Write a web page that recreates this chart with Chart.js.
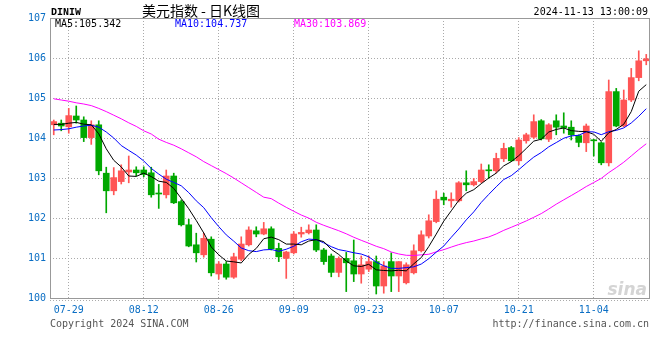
<!DOCTYPE html>
<html><head><meta charset="utf-8">
<script src="https://cdn.jsdelivr.net/npm/chart.js@4"></script>
<style>
html,body{margin:0;padding:0;background:#fff;}
canvas{display:block;}
</style></head><body>
<canvas id="c" width="660" height="360"></canvas>
<script>
// ---- data ----
const dates = ["07-25","07-26","07-29","07-30","07-31","08-01","08-02","08-05","08-06","08-07",
"08-08","08-09","08-12","08-13","08-14","08-15","08-16","08-19","08-20","08-21",
"08-22","08-23","08-26","08-27","08-28","08-29","08-30","09-02","09-03","09-04",
"09-05","09-06","09-09","09-10","09-11","09-12","09-13","09-16","09-17","09-18",
"09-19","09-20","09-23","09-24","09-25","09-26","09-27","09-30","10-01","10-02",
"10-03","10-04","10-07","10-08","10-09","10-10","10-11","10-14","10-15","10-16",
"10-17","10-18","10-21","10-22","10-23","10-24","10-25","10-28","10-29","10-30",
"10-31","11-01","11-04","11-05","11-06","11-07","11-08","11-11","11-12","11-13"];
const tickLabels = ["07-29","08-12","08-26","09-09","09-23","10-07","10-21","11-04"];

const opens = [104.33,104.37,104.28,104.55,104.45,104.01,104.33,103.12,102.68,102.91,
103.15,103.20,103.20,103.13,102.62,102.58,103.05,102.41,101.83,101.33,
101.08,101.47,100.60,100.85,100.52,100.97,101.33,101.68,101.60,101.73,
101.24,100.99,101.13,101.60,101.63,101.70,101.20,101.05,100.64,100.99,
100.93,100.60,100.72,100.91,100.30,100.91,100.55,100.38,100.63,101.18,
101.55,101.91,102.52,102.43,102.43,102.88,102.83,102.91,103.20,103.18,
103.48,103.76,103.43,103.93,104.02,104.43,103.97,104.43,104.30,104.27,
104.06,103.88,103.95,103.88,103.38,105.16,104.30,104.95,105.51,105.93];
const highs = [104.45,104.45,104.74,104.80,104.53,104.43,104.43,103.27,103.26,103.33,
103.55,103.28,103.28,103.27,102.84,103.20,103.12,102.45,101.97,101.62,
101.62,101.53,100.91,100.91,101.12,101.53,101.78,101.78,101.89,101.78,
101.37,101.17,101.66,101.77,101.83,101.83,101.24,101.10,101.03,101.14,
101.45,101.05,101.05,101.05,100.91,101.13,100.91,100.88,101.33,101.68,
102.08,102.68,102.62,102.63,102.91,103.18,102.99,103.35,103.33,103.62,
103.87,103.79,104.01,104.12,104.58,104.46,104.36,104.58,104.63,104.43,
104.08,104.35,103.97,103.90,105.45,105.24,105.20,105.74,106.18,106.09];
const lows = [104.08,104.18,104.12,104.37,103.91,103.84,103.08,102.13,102.58,102.85,
102.88,103.05,103.03,102.52,102.24,102.50,102.36,101.80,101.28,100.90,
101.02,100.55,100.47,100.47,100.49,100.93,101.30,101.53,101.58,101.20,
100.91,100.49,101.10,101.52,101.60,101.16,100.84,100.53,100.53,100.16,
100.41,100.37,100.66,100.10,100.12,100.16,100.16,100.35,100.60,101.15,
101.50,101.88,102.33,102.27,102.40,102.68,102.80,102.88,102.99,103.13,
103.41,103.41,103.33,103.87,103.98,103.95,103.91,104.08,104.12,103.95,
103.78,103.66,103.55,103.33,103.30,104.28,104.28,104.91,105.43,105.83];
const closes = [104.41,104.30,104.56,104.45,104.01,104.33,103.18,102.68,103.01,103.18,
103.20,103.13,103.09,102.58,102.60,103.05,102.38,101.83,101.30,101.13,
101.49,100.63,100.85,100.52,101.03,101.35,101.70,101.60,101.73,101.23,
101.03,101.15,101.60,101.64,101.70,101.20,100.91,100.64,100.99,100.88,
100.60,100.83,100.91,100.30,100.80,100.55,100.91,100.83,101.18,101.58,
101.93,102.47,102.45,102.47,102.88,102.83,102.91,103.20,103.18,103.49,
103.74,103.43,103.95,104.08,104.41,103.98,104.33,104.27,104.26,104.08,
103.89,104.30,103.93,103.38,105.16,104.30,104.95,105.51,105.93,105.98];

// moving-average values at the left edge (their windows start before the visible range)
const ma5Lead = [104.34,104.34,104.37,104.39];
const ma10Lead = [104.20,104.21,104.23,104.27,104.30,104.32,104.27,104.15,104.00];
const ma30Lead = [104.98,104.95,104.92,104.88,104.85,104.81,104.74,104.66,104.57,104.48,
104.38,104.29,104.18,104.10,103.97,103.89,103.82,103.73,103.63,103.53,
103.41,103.31,103.21,103.11,103.00,102.88,102.76,102.64,102.52];

const maLabels = ["MA5:105.342","MA10:104.737","MA30:103.869"];
const titleSymbol = "DINIW";
const titleText = "美元指数 - 日K线图";
const stamp = "2024-11-13 13:00:09";
const footLeft = "Copyright 2024 SINA.COM";
const footRight = "http://finance.sina.com.cn";

// ---- derived ----
function movingAvg(n, lead) {
  return closes.map((c, i) => {
    if (i < n - 1) return lead[i];
    let s = 0; for (let k = i - n + 1; k <= i; k++) s += closes[k];
    return s / n;
  });
}
const ma5 = movingAvg(5, ma5Lead), ma10 = movingAvg(10, ma10Lead), ma30 = movingAvg(30, ma30Lead);
const UP = '#ff5555', DOWN = '#00a800';
const candleColors = closes.map((c, i) => c >= opens[i] ? UP : DOWN);
const MONO = "'DejaVu Sans Mono', monospace";
const BLUE = '#0a6ec4';

const decor = {
  id: 'decor',
  afterDraw(chart) {
    const { ctx, chartArea: a } = chart;
    ctx.save();
    ctx.strokeStyle = '#999'; ctx.lineWidth = 1; ctx.setLineDash([]);
    ctx.strokeRect(a.left + 0.5, a.top + 0.5, a.right - a.left - 1, a.bottom - a.top);
    ctx.strokeStyle = '#aaa'; ctx.setLineDash([1, 2]);
    ctx.beginPath(); ctx.moveTo(a.left, a.bottom + 2.5); ctx.lineTo(a.right, a.bottom + 2.5); ctx.stroke();
    ctx.setLineDash([]);
    ctx.textBaseline = 'alphabetic';
    // watermark
    ctx.font = "italic bold 17px 'DejaVu Sans', sans-serif";
    ctx.fillStyle = '#d4d4d4'; ctx.textAlign = 'right';
    ctx.fillText('sina', a.right - 3, a.bottom - 3);
    // header
    ctx.fillStyle = '#000'; ctx.textAlign = 'left';
    ctx.font = "bold 10px 'Liberation Mono', monospace";
    ctx.fillText(titleSymbol, 51, 15);
    ctx.font = "14px 'Noto Sans CJK SC', sans-serif";
    ctx.textAlign = 'center';
    ctx.fillText(titleText, 201, 16);
    ctx.font = "10px " + MONO;
    ctx.textAlign = 'right';
    ctx.fillText(stamp, 648, 15);
    ctx.textAlign = 'left';
    const maColors = ['#000', '#0000ff', '#ff00ff'];
    const maX = [55, 175, 294];
    maLabels.forEach((t, i) => { ctx.fillStyle = maColors[i]; ctx.fillText(t, maX[i], 27); });
    ctx.fillStyle = '#555';
    ctx.fillText(footLeft, 50, 327);
    ctx.textAlign = 'right';
    ctx.fillText(footRight, 649, 327);
    ctx.restore();
  }
};

new Chart(document.getElementById('c'), {
  type: 'bar',
  data: {
    labels: dates,
    datasets: [
      { type: 'line', data: ma5, borderColor: '#000', borderWidth: 1, pointRadius: 0, fill: false, tension: 0, order: 0 },
      { type: 'line', data: ma10, borderColor: '#0000ff', borderWidth: 1, pointRadius: 0, fill: false, tension: 0, order: 1 },
      { type: 'line', data: ma30, borderColor: '#ff00ff', borderWidth: 1, pointRadius: 0, fill: false, tension: 0, order: 2 },
      { type: 'bar', data: opens.map((o, i) => [Math.min(o, closes[i]), Math.max(o, closes[i])]), backgroundColor: candleColors, barThickness: 6, minBarLength: 1, grouped: false, order: 3 },
      { type: 'bar', data: lows.map((l, i) => [l, highs[i]]), backgroundColor: candleColors, barThickness: 1, grouped: false, order: 4 }
    ]
  },
  options: {
    responsive: false, animation: false, devicePixelRatio: 1,
    layout: { padding: { top: 18, right: 10, bottom: 40, left: 0 } },
    plugins: { legend: { display: false }, tooltip: { enabled: false } },
    scales: {
      x: {
        offset: true,
        grid: { offset: false, drawTicks: false, lineWidth: 1,
          color: c => (c.index !== undefined && tickLabels.includes(dates[c.index])) ? '#aaa' : 'rgba(0,0,0,0)' },
        border: { display: false, dash: [1, 2] },
        ticks: { autoSkip: false, maxRotation: 0, minRotation: 0, padding: 6, color: BLUE,
          font: { family: MONO, size: 10 },
          callback: (v, i) => tickLabels.includes(dates[i]) ? dates[i] : '' },
        afterFit: s => { s.height = 22; }
      },
      y: {
        min: 100, max: 107,
        ticks: { stepSize: 1, padding: 4, color: BLUE, font: { family: MONO, size: 10 } },
        grid: { drawTicks: false, color: '#aaa', lineWidth: 1 },
        border: { display: false, dash: [1, 2] },
        afterFit: s => { s.width = 50; }
      }
    }
  },
  plugins: [decor]
});
</script>
</body></html>
